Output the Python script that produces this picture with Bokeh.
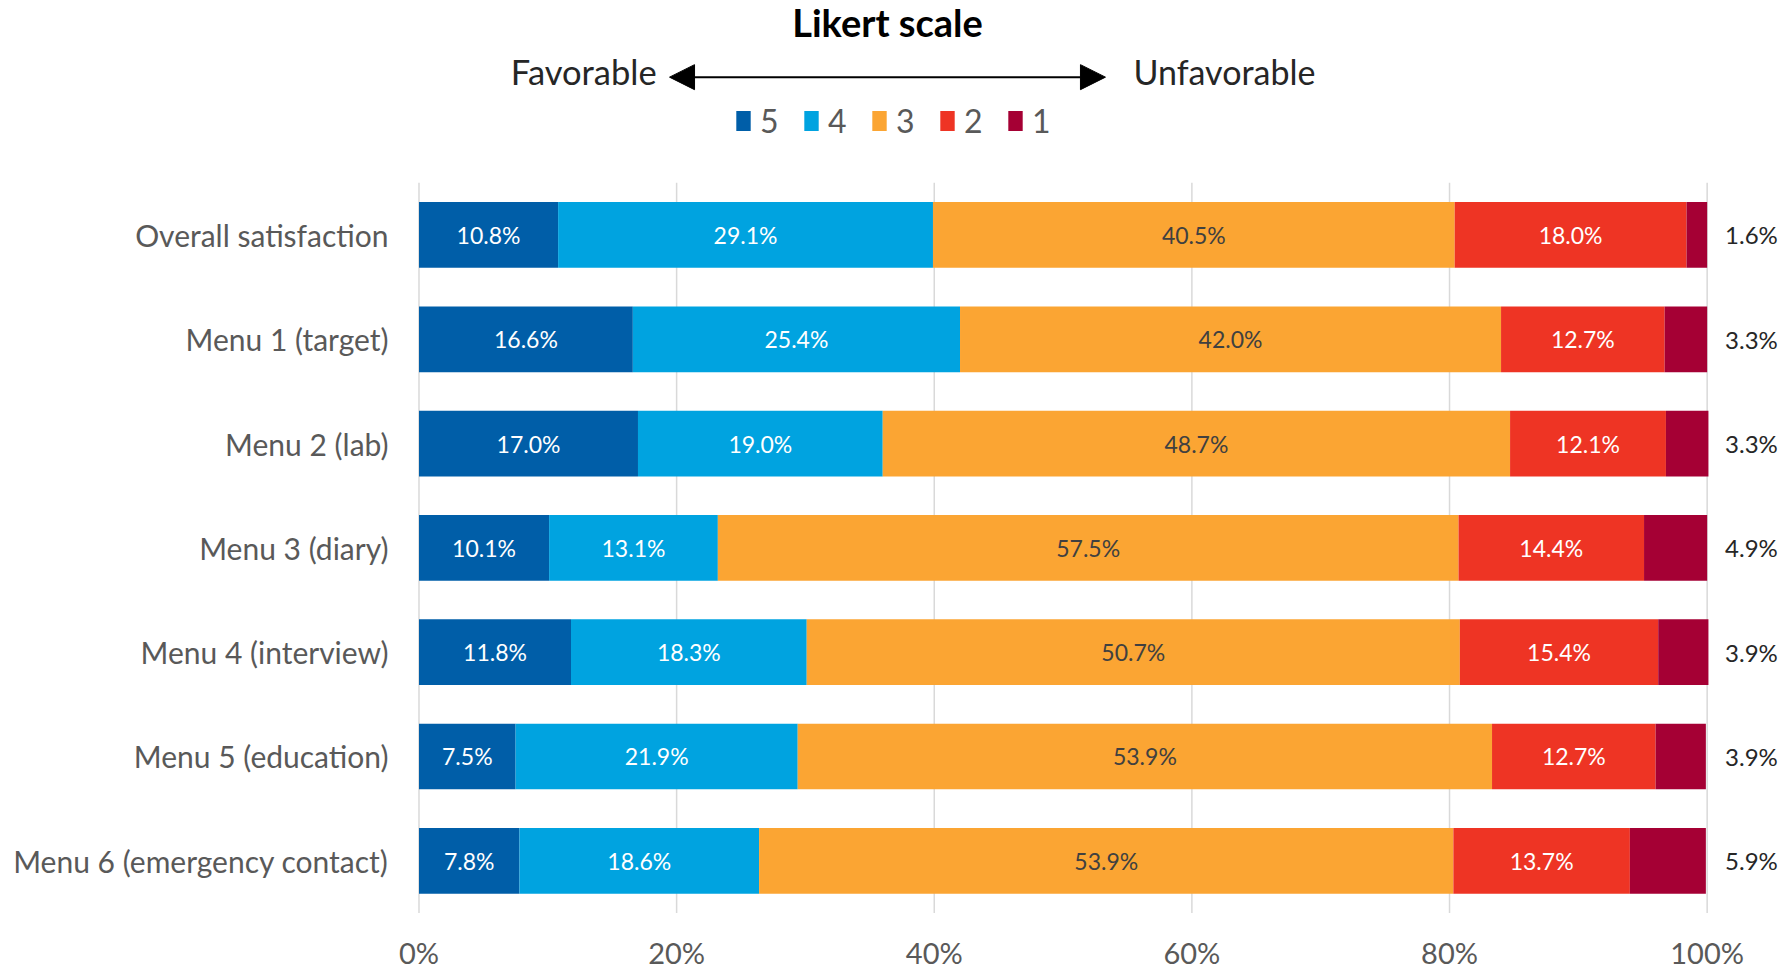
from bokeh.plotting import figure
from bokeh.models import Range1d, FixedTicker, Legend, LegendItem, Arrow, NormalHead, ColumnDataSource
from bokeh.core.properties import value
from bokeh.embed import file_html
from bokeh.resources import INLINE

# ---- data ----
categories = ["Overall satisfaction", "Menu 1 (target)", "Menu 2 (lab)", "Menu 3 (diary)",
              "Menu 4 (interview)", "Menu 5 (education)", "Menu 6 (emergency contact)"]
levels = ["5", "4", "3", "2", "1"]
score5 = [10.8, 16.6, 17.0, 10.1, 11.8, 7.5, 7.8]
score4 = [29.1, 25.4, 19.0, 13.1, 18.3, 21.9, 18.6]
score3 = [40.5, 42.0, 48.7, 57.5, 50.7, 53.9, 53.9]
score2 = [18.0, 12.7, 12.1, 14.4, 15.4, 12.7, 13.7]
score1 = [1.6, 3.3, 3.3, 4.9, 3.9, 3.9, 5.9]
x_ticks = [0, 20, 40, 60, 80, 100]
x_tick_labels = ["0%", "20%", "40%", "60%", "80%", "100%"]
title_text = "Likert scale"
left_text = "Favorable"
right_text = "Unfavorable"

# ---- style ----
FONT = "Lato"
colors = ["#005EA8", "#00A3E0", "#FBA533", "#EE3424", "#A50034"]
label_colors = ["#FFFFFF", "#FFFFFF", "#404040", "#FFFFFF", None]
series = [score5, score4, score3, score2, score1]
rows = list(range(len(categories)))

p = figure(width=1790, height=972, output_backend="svg", toolbar_location=None,
           x_range=Range1d(-1.824, 106.47), y_range=Range1d(7.071, -2.248),
           x_axis_location=None, y_axis_location="left",
           min_border_left=395, min_border_right=0, min_border_top=0, min_border_bottom=0)
p.outline_line_color = None
p.xgrid.visible = False
p.ygrid.visible = False
p.background_fill_color = "white"
p.border_fill_color = "white"

# y axis with category labels
p.yaxis.ticker = FixedTicker(ticks=rows)
p.yaxis.major_label_overrides = {i: c for i, c in enumerate(categories)}
p.yaxis.axis_line_color = None
p.yaxis.major_tick_line_color = None
p.yaxis.minor_tick_line_color = None
p.yaxis.major_tick_out = 0
p.yaxis.major_tick_in = 0
p.yaxis.major_label_standoff = 7
p.yaxis.major_label_text_font = FONT
p.yaxis.major_label_text_font_size = "30px"
p.yaxis.major_label_text_color = "#595959"

# vertical gridlines
p.segment(x0=x_ticks, x1=x_ticks, y0=[-0.5] * len(x_ticks), y1=[6.5] * len(x_ticks),
          line_color="#D9D9D9", line_width=1.5)

# stacked bars
renderers = []
lefts = [0.0] * len(rows)
for k, vals in enumerate(series):
    rights = [l + v for l, v in zip(lefts, vals)]
    r = p.hbar(y=rows, left=lefts, right=rights, height=0.63,
               fill_color=colors[k], line_color=None)
    renderers.append(r)
    if label_colors[k] is not None:
        src = ColumnDataSource(dict(x=[(l + rr) / 2 for l, rr in zip(lefts, rights)], y=rows,
                                    t=[f"{v:.1f}%" for v in vals]))
        p.text(x="x", y="y", text="t", source=src, text_align="center", text_baseline="middle",
               text_font=value(FONT), text_font_size="23px", text_color=label_colors[k])
    lefts = rights

# level-1 values to the right
src1 = ColumnDataSource(dict(x=[103.44] * len(rows), y=rows, t=[f"{v:.1f}%" for v in score1]))
p.text(x="x", y="y", text="t", source=src1, text_align="center", text_baseline="middle",
       text_font=value(FONT), text_font_size="24px", text_color="#262626")

# x tick labels
p.text(x=x_ticks, y=[6.875] * len(x_ticks), text=x_tick_labels, text_align="center",
       text_baseline="middle", text_font=value(FONT), text_font_size="29px",
       text_color="#595959")

# header: title, arrow
p.text(x=[36.37], y=[-2.045], text=[title_text], text_align="center", text_baseline="middle",
       text_font=value(FONT), text_font_size="38px", text_font_style="bold", text_color="#000000")
p.text(x=[18.45], y=[-1.57], text=[left_text], text_align="right", text_baseline="middle",
       text_font=value(FONT), text_font_size="34.5px", text_color="#262626")
p.text(x=[55.47], y=[-1.57], text=[right_text], text_align="left", text_baseline="middle",
       text_font=value(FONT), text_font_size="34px", text_color="#262626")
p.add_layout(Arrow(x_start=19.45, y_start=-1.513, x_end=53.29, y_end=-1.513,
                   line_color="#000000", line_width=2,
                   start=NormalHead(size=25, fill_color="#000000", line_color="#000000"),
                   end=NormalHead(size=25, fill_color="#000000", line_color="#000000")))

# legend
legend = Legend(items=[LegendItem(label=lv, renderers=[r]) for lv, r in zip(levels, renderers)],
                orientation="horizontal", location=(339, 832),
                glyph_width=18, glyph_height=25, label_standoff=8, spacing=22,
                padding=0, margin=0, border_line_color=None, background_fill_alpha=0,
                label_text_font=FONT, label_text_font_size="32px", label_text_color="#595959")
p.add_layout(legend)

open("out.html", "w").write(file_html(p, INLINE))
